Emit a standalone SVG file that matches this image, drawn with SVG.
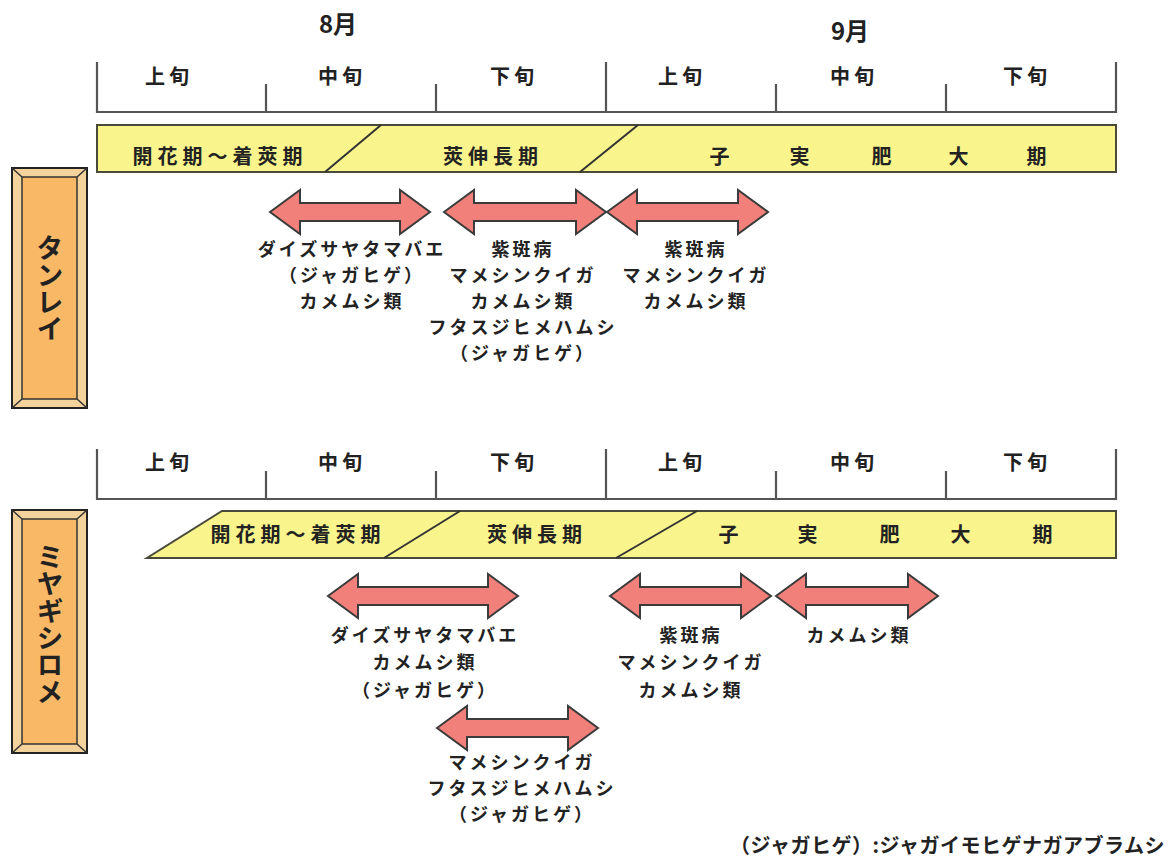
<svg xmlns="http://www.w3.org/2000/svg" width="1173" height="859" viewBox="0 0 1173 859">
<defs>
<style>
text{font-family:"Noto Sans CJK JP","Noto Sans CJK SC",sans-serif;font-weight:bold;fill:#222;}
.mon{font-size:24px;text-anchor:middle;}
.tl{font-size:20px;text-anchor:middle;letter-spacing:4px;}
.bt{font-size:20px;text-anchor:middle;letter-spacing:5px;}
.lb{font-size:18px;text-anchor:middle;letter-spacing:3px;}
.vt{font-size:27px;text-anchor:middle;writing-mode:vertical-rl;}
.axis{stroke:#555;stroke-width:2.2;fill:none;}
.bar{fill:#F9F58C;stroke:#4a4a3a;stroke-width:2;}
.div{stroke:#333;stroke-width:2;fill:none;}
.arr{fill:#F2807A;stroke:#3b3b3b;stroke-width:2;stroke-linejoin:miter;}
.boxo{fill:#F3D29C;stroke:#222;stroke-width:2;}
.boxi{fill:#F8B865;stroke:#333;stroke-width:1.5;}
.bev{stroke:#333;stroke-width:1.5;}
</style>
</defs>
<rect width="1173" height="859" fill="#ffffff"/>

<g id="months">
<text class="mon" x="338" y="33">8月</text>
<text class="mon" x="850" y="40">9月</text>
</g>

<g id="timeline-top">
<path class="axis" d="M97,62 V112 H1116 V62 M266,84 V112 M436,84 V112 M606,62 V112 M776,84 V112 M946,84 V112"/>
<text class="tl" x="169" y="84">上旬</text>
<text class="tl" x="342" y="84">中旬</text>
<text class="tl" x="514" y="84">下旬</text>
<text class="tl" x="682" y="84">上旬</text>
<text class="tl" x="854" y="84">中旬</text>
<text class="tl" x="1027" y="84">下旬</text>
</g>

<g id="stage-bar-top">
<rect class="bar" x="97" y="125" width="1019" height="47"/>
<line class="div" x1="381" y1="125" x2="325" y2="172"/>
<line class="div" x1="638" y1="125" x2="580" y2="172"/>
<text class="bt" x="220" y="164">開花期～着莢期</text>
<text class="bt" x="493" y="164">莢伸長期</text>
<text class="bt" x="722" y="164">子</text>
<text class="bt" x="802" y="164">実</text>
<text class="bt" x="884" y="164">肥</text>
<text class="bt" x="961" y="164">大</text>
<text class="bt" x="1039" y="164">期</text>
</g>

<g id="label-tanrei">
<rect class="boxo" x="12" y="168" width="75" height="240"/>
<rect class="boxi" x="22" y="177" width="55" height="222"/>
<path class="bev" d="M12,168 L22,177 M87,168 L77,177 M12,408 L22,399 M87,408 L77,399"/>
<text class="vt" x="50" y="288">タンレイ</text>
</g>

<g id="timeline-bottom">
<path class="axis" d="M97,449 V499 H1116 V449 M266,471 V499 M436,471 V499 M606,449 V499 M776,471 V499 M946,471 V499"/>
<text class="tl" x="169" y="470">上旬</text>
<text class="tl" x="342" y="470">中旬</text>
<text class="tl" x="514" y="470">下旬</text>
<text class="tl" x="682" y="470">上旬</text>
<text class="tl" x="854" y="470">中旬</text>
<text class="tl" x="1027" y="470">下旬</text>
</g>

<g id="stage-bar-bottom">
<path class="bar" d="M222,511 H1116 V558 H147 Z"/>
<line class="div" x1="460" y1="511" x2="384" y2="558"/>
<line class="div" x1="697" y1="511" x2="616" y2="558"/>
<text class="bt" x="298" y="542">開花期～着莢期</text>
<text class="bt" x="537" y="542">莢伸長期</text>
<text class="bt" x="731" y="542">子</text>
<text class="bt" x="810" y="542">実</text>
<text class="bt" x="892" y="542">肥</text>
<text class="bt" x="963" y="542">大</text>
<text class="bt" x="1045" y="542">期</text>
</g>

<g id="label-miyagishirome">
<rect class="boxo" x="12" y="510" width="75" height="243"/>
<rect class="boxi" x="22" y="519" width="55" height="225"/>
<path class="bev" d="M12,510 L22,519 M87,510 L77,519 M12,753 L22,744 M87,753 L77,744"/>
<text class="vt" x="50" y="624">ミヤギシロメ</text>
</g>

<g id="connectors">
<path class="arr" d="M270,212 L300,190 L300,203 L400,203 L400,190 L430,212 L400,234 L400,221 L300,221 L300,234 Z"/>
<path class="arr" d="M444,212 L474,190 L474,203 L576,203 L576,190 L606,212 L576,234 L576,221 L474,221 L474,234 Z"/>
<path class="arr" d="M607,212 L637,190 L637,203 L738,203 L738,190 L768,212 L738,234 L738,221 L637,221 L637,234 Z"/>
<path class="arr" d="M328,596 L358,574 L358,587 L488,587 L488,574 L518,596 L488,618 L488,605 L358,605 L358,618 Z"/>
<path class="arr" d="M610,596 L640,574 L640,587 L741,587 L741,574 L771,596 L741,618 L741,605 L640,605 L640,618 Z"/>
<path class="arr" d="M776,596 L806,574 L806,587 L908,587 L908,574 L938,596 L908,618 L908,605 L806,605 L806,618 Z"/>
<path class="arr" d="M437,728 L467,706 L467,719 L568,719 L568,706 L598,728 L568,750 L568,737 L467,737 L467,750 Z"/>
</g>

<g id="pests-top-1">
<text class="lb" x="352" y="256">ダイズサヤタマバエ</text>
<text class="lb" x="352" y="282">（ジャガヒゲ）</text>
<text class="lb" x="352" y="308">カメムシ類</text>
</g>
<g id="pests-top-2">
<text class="lb" x="523" y="256">紫斑病</text>
<text class="lb" x="523" y="282">マメシンクイガ</text>
<text class="lb" x="523" y="308">カメムシ類</text>
<text class="lb" x="523" y="334">フタスジヒメハムシ</text>
<text class="lb" x="523" y="360">（ジャガヒゲ）</text>
</g>
<g id="pests-top-3">
<text class="lb" x="696" y="256">紫斑病</text>
<text class="lb" x="696" y="282">マメシンクイガ</text>
<text class="lb" x="696" y="308">カメムシ類</text>
</g>

<g id="pests-bottom-1">
<text class="lb" x="425" y="642">ダイズサヤタマバエ</text>
<text class="lb" x="425" y="669">カメムシ類</text>
<text class="lb" x="425" y="697">（ジャガヒゲ）</text>
</g>
<g id="pests-bottom-2">
<text class="lb" x="691" y="642">紫斑病</text>
<text class="lb" x="691" y="669">マメシンクイガ</text>
<text class="lb" x="691" y="697">カメムシ類</text>
</g>
<g id="pests-bottom-3">
<text class="lb" x="859" y="642">カメムシ類</text>
</g>
<g id="pests-bottom-4">
<text class="lb" x="522" y="769">マメシンクイガ</text>
<text class="lb" x="522" y="795">フタスジヒメハムシ</text>
<text class="lb" x="522" y="821">（ジャガヒゲ）</text>
</g>

<g id="footnote">
<text x="1165" y="853" style="font-size:20px;text-anchor:end;letter-spacing:0.5px;">（ジャガヒゲ）:ジャガイモヒゲナガアブラムシ</text>
</g>
</svg>
